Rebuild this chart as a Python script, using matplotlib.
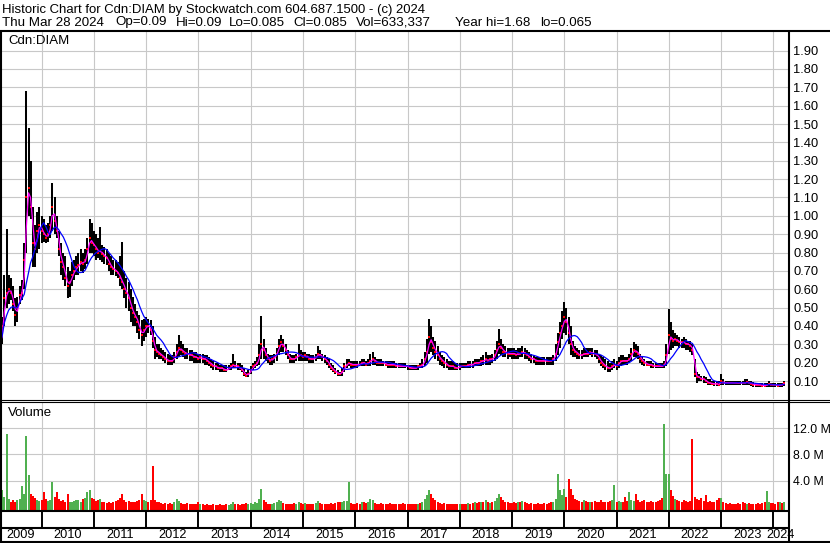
import numpy as np
import pandas as pd
import matplotlib
matplotlib.use("Agg")
import matplotlib.pyplot as plt
from matplotlib.lines import Line2D

plt.rcParams['font.family'] = ['Liberation Sans', 'DejaVu Sans']

# ---------------- text ----------------
title_line1 = "Historic Chart for Cdn:DIAM by Stockwatch.com 604.687.1500 - (c) 2024"
title_line2_parts = ["Thu Mar 28 2024", "Op=0.09", "Hi=0.09", "Lo=0.085", "Cl=0.085",
                     "Vol=633,337", "Year hi=1.68", "lo=0.065"]
symbol = "Cdn:DIAM"
volume_title = "Volume"

# ---------------- data (semi-monthly, from 2009-03-15) ----------------
start_date = "2009-03-15"

high = [
    .36, .45, .68, .93, .68, .66, .62, .55, .56, .62, .65, .85, 1.68, 1.48, 1.30, 1.05, .95, 1.02, 1.05,          # 2009
    1.00, .98, .95, .96, 1.00, 1.18, 1.10, 1.00, .92, .85, .80, .78, .72, .70, .75, .76, .78, .80, .82, .80, .82, .88, .98, .96,  # 2010
    .92, .90, .88, .94, .84, .83, .82, .80, .78, .76, .76, .75, .78, .86, .70, .66, .64, .60, .56, .52, .48, .46, .43, .44,  # 2011
    .45, .44, .43, .40, .34, .30, .30, .28, .27, .26, .25, .24, .24, .26, .30, .35, .32, .30, .28, .28, .27, .27, .26, .26,  # 2012
    .25, .25, .25, .24, .24, .23, .22, .21, .20, .20, .19, .19, .19, .19, .19, .20, .25, .21, .20, .20, .19, .17, .15, .16,  # 2013
    .18, .20, .21, .23, .30, .455, .33, .28, .25, .24, .24, .25, .28, .33, .35, .33, .30, .27, .25, .24, .24, .25, .30, .27,  # 2014
    .26, .26, .25, .25, .24, .24, .25, .29, .27, .25, .24, .23, .22, .20, .19, .17, .16, .15, .17, .20, .22, .22, .21, .21,  # 2015
    .21, .21, .21, .22, .22, .21, .22, .25, .257, .23, .22, .22, .22, .21, .21, .21, .21, .21, .21, .20, .20, .20, .20, .20,  # 2016
    .19, .19, .19, .19, .19, .19, .20, .22, .26, .33, .44, .40, .34, .32, .29, .26, .24, .23, .22, .21, .21, .21, .20, .20,  # 2017
    .20, .20, .20, .20, .21, .21, .21, .22, .22, .22, .23, .24, .26, .24, .24, .25, .27, .32, .385, .33, .30, .29, .28, .28,  # 2018
    .28, .28, .27, .28, .28, .29, .28, .27, .26, .25, .24, .23, .23, .23, .23, .23, .23, .23, .23, .24, .30, .36, .42, .48,  # 2019
    .53, .50, .45, .40, .32, .29, .28, .27, .27, .28, .28, .28, .28, .28, .27, .27, .25, .24, .23, .22, .21, .20, .21, .22,  # 2020
    .21, .23, .24, .24, .23, .23, .25, .28, .31, .30, .29, .25, .23, .22, .21, .21, .21, .20, .20, .20, .20, .20, .21, .30,  # 2021
    .49, .42, .38, .36, .35, .34, .33, .34, .33, .32, .32, .30, .22, .15, .14, .13, .13, .12, .11, .11, .10, .10, .10, .10,  # 2022
    .14, .11, .10, .10, .10, .10, .10, .10, .10, .10, .10, .11, .11, .10, .10, .095, .09, .09, .09, .09, .09, .09, .10, .09,  # 2023
    .09, .09, .09, .09, .09, .10,                                                                                       # 2024
]
low = [
    .26, .30, .40, .50, .52, .54, .48, .40, .42, .52, .54, .60, .80, 1.00, .98, .72, .72, .80, .82,
    .85, .86, .85, .86, .88, .92, .90, .88, .78, .68, .65, .62, .55, .56, .62, .65, .68, .68, .70, .69, .71, .74, .80, .80,
    .78, .76, .77, .76, .75, .74, .73, .70, .68, .68, .67, .66, .62, .60, .55, .50, .48, .42, .40, .40, .36, .33, .29, .32,
    .34, .36, .35, .28, .22, .23, .22, .22, .21, .20, .19, .19, .19, .20, .22, .23, .24, .23, .22, .22, .21, .21, .20, .20,
    .20, .20, .20, .19, .19, .18, .17, .16, .16, .16, .15, .15, .15, .15, .16, .16, .17, .17, .16, .16, .15, .13, .12, .12,
    .14, .16, .17, .18, .19, .22, .22, .21, .20, .19, .19, .20, .21, .24, .26, .26, .24, .22, .20, .20, .20, .21, .21, .21,
    .21, .21, .21, .20, .20, .20, .21, .22, .22, .21, .20, .19, .17, .16, .15, .14, .13, .125, .13, .15, .17, .18, .17, .17,
    .17, .17, .18, .18, .18, .18, .18, .18, .19, .19, .18, .18, .18, .18, .18, .17, .17, .17, .17, .17, .17, .17, .17, .17,
    .16, .16, .16, .16, .16, .16, .17, .17, .18, .20, .25, .26, .24, .22, .21, .19, .18, .17, .17, .16, .16, .16, .16, .16,
    .16, .17, .17, .17, .17, .17, .17, .18, .18, .18, .18, .19, .19, .19, .19, .20, .21, .22, .25, .24, .23, .23, .22, .23,
    .22, .22, .22, .22, .23, .23, .22, .22, .21, .20, .20, .19, .19, .19, .19, .19, .19, .19, .19, .19, .21, .24, .28, .33,
    .36, .35, .30, .24, .23, .23, .22, .22, .22, .23, .23, .23, .24, .23, .23, .22, .20, .18, .17, .16, .15, .15, .16, .17,
    .16, .17, .18, .19, .19, .19, .20, .21, .23, .23, .22, .20, .19, .18, .18, .18, .17, .17, .17, .17, .17, .17, .17, .18,
    .25, .27, .28, .29, .29, .28, .28, .28, .27, .27, .26, .24, .12, .09, .10, .10, .09, .09, .08, .08, .08, .075, .075, .075,
    .08, .08, .08, .08, .08, .08, .08, .08, .08, .08, .08, .08, .08, .08, .075, .07, .07, .07, .07, .065, .065, .07, .07, .07,
    .07, .07, .065, .07, .07, .075,
]
close = [
    .30, .40, .55, .58, .60, .58, .52, .46, .50, .57, .58, .76, 1.10, 1.15, 1.05, .85, .82, .92, .95,
    .92, .90, .88, .90, .95, 1.05, .97, .92, .82, .75, .72, .66, .62, .64, .68, .70, .72, .73, .75, .74, .76, .82, .88, .85,
    .84, .82, .80, .81, .79, .78, .77, .74, .72, .71, .70, .69, .66, .64, .60, .58, .55, .50, .47, .45, .42, .38, .35, .38,
    .40, .40, .38, .32, .27, .26, .25, .24, .23, .22, .21, .21, .21, .23, .26, .28, .27, .26, .25, .25, .24, .24, .23, .23,
    .22, .23, .22, .22, .21, .20, .19, .18, .18, .17, .17, .17, .16, .16, .17, .18, .19, .18, .18, .17, .16, .14, .13, .14,
    .16, .18, .19, .20, .24, .30, .27, .24, .22, .21, .22, .23, .25, .29, .31, .29, .27, .24, .22, .22, .22, .23, .24, .24,
    .23, .24, .23, .22, .22, .22, .23, .25, .24, .23, .22, .21, .19, .17, .16, .15, .14, .14, .15, .18, .19, .20, .19, .19,
    .19, .19, .19, .20, .20, .19, .20, .21, .22, .21, .20, .20, .20, .20, .19, .19, .19, .19, .19, .18, .18, .18, .18, .18,
    .18, .17, .17, .17, .17, .18, .18, .19, .22, .26, .34, .31, .28, .26, .24, .22, .21, .20, .19, .18, .18, .18, .17, .17,
    .18, .18, .18, .18, .19, .19, .19, .20, .20, .20, .21, .21, .22, .21, .22, .22, .24, .27, .30, .28, .26, .26, .25, .25,
    .25, .25, .24, .25, .25, .26, .25, .24, .23, .22, .22, .21, .21, .21, .21, .21, .21, .21, .21, .22, .25, .31, .36, .40,
    .45, .42, .36, .30, .27, .26, .25, .24, .24, .25, .25, .25, .26, .25, .25, .24, .22, .20, .19, .18, .17, .17, .18, .19,
    .18, .20, .21, .21, .21, .21, .22, .25, .27, .26, .25, .22, .21, .20, .19, .19, .19, .18, .18, .18, .18, .18, .19, .24,
    .35, .33, .32, .33, .32, .31, .31, .31, .30, .30, .29, .27, .14, .12, .12, .11, .11, .10, .09, .09, .085, .085, .085, .08,
    .10, .09, .09, .09, .09, .09, .09, .09, .09, .09, .09, .09, .095, .09, .085, .08, .08, .08, .08, .075, .075, .08, .085, .08,
    .08, .08, .075, .08, .08, .09,
]
volume_m = [
    5.6, 2.6, 1.5, 11.1, 1.2, 0.8, 1.0, 0.7, 1.1, 1.2, 3.2, 2.0, 10.8, 4.8, 2.0, 1.6, 1.4, 1.0, 0.9,
    1.0, 2.3, 1.2, 0.9, 1.1, 3.8, 1.5, 2.2, 1.2, 0.9, 1.0, 0.8, 1.9, 0.8, 0.7, 0.9, 1.0, 1.1, 0.8, 1.2, 1.4, 2.3, 2.6, 1.3,
    1.2, 0.9, 1.0, 1.2, 0.8, 0.7, 0.6, 0.7, 0.6, 0.7, 0.9, 1.0, 1.4, 2.0, 1.0, 0.8, 0.9, 0.7, 0.8, 0.7, 0.9, 1.1, 1.9, 1.0,
    0.9, 0.8, 1.0, 6.3, 1.1, 0.8, 0.7, 0.6, 0.5, 0.6, 0.5, 0.6, 0.5, 0.7, 1.2, 0.9, 0.6, 0.5, 0.5, 0.6, 0.5, 0.4, 0.5, 0.4,
    0.8, 0.5, 0.4, 0.3, 0.4, 0.3, 0.3, 0.4, 0.3, 0.3, 0.4, 0.3, 0.3, 0.4, 0.3, 0.4, 0.8, 0.5, 0.4, 0.3, 0.4, 0.5, 0.6, 0.4,
    0.6, 0.5, 0.7, 0.6, 1.2, 2.7, 1.0, 0.7, 0.5, 0.5, 0.5, 0.6, 0.8, 1.0, 0.9, 0.6, 0.5, 0.5, 0.4, 0.5, 0.6, 0.5, 0.8, 0.6,
    0.5, 0.6, 0.5, 0.4, 0.5, 0.4, 0.6, 0.9, 0.6, 0.5, 0.4, 0.4, 0.5, 0.6, 0.5, 0.6, 0.7, 0.8, 0.7, 0.9, 0.9, 3.8, 0.6, 0.5,
    0.5, 0.6, 0.5, 0.7, 0.8, 0.6, 0.7, 1.2, 1.0, 0.6, 0.5, 0.5, 0.6, 0.5, 0.4, 0.5, 0.6, 0.5, 0.4, 0.5, 0.4, 0.5, 0.6, 0.5,
    0.5, 0.4, 0.5, 0.5, 0.4, 0.5, 0.6, 0.8, 1.2, 1.8, 2.6, 2.0, 1.4, 1.0, 0.8, 0.6, 0.5, 0.6, 0.5, 0.4, 0.5, 0.5, 0.4, 0.5,
    0.5, 0.4, 0.5, 0.5, 0.6, 0.5, 0.6, 0.7, 0.6, 0.7, 0.8, 0.7, 1.0, 0.7, 0.6, 0.7, 0.9, 1.4, 2.0, 1.5, 1.0, 0.8, 0.7, 0.6,
    0.6, 0.7, 0.6, 0.8, 0.7, 0.9, 0.7, 0.6, 0.5, 0.6, 0.5, 0.5, 0.6, 0.5, 0.5, 0.6, 0.5, 0.6, 0.7, 0.8, 1.2, 5.0, 2.6, 1.8,
    2.7, 1.5, 4.3, 2.7, 1.8, 1.2, 1.0, 0.9, 0.8, 1.0, 0.9, 0.8, 0.7, 0.8, 0.9, 0.7, 0.8, 1.0, 0.8, 0.7, 0.8, 0.9, 1.0, 3.4,
    0.8, 0.9, 0.7, 0.8, 1.5, 0.9, 2.2, 1.0, 0.9, 1.9, 1.0, 0.8, 0.9, 1.0, 0.8, 0.7, 0.9, 0.8, 0.7, 0.9, 1.1, 1.4, 12.7, 5.0,
    5.0, 2.6, 1.7, 1.2, 1.0, 0.9, 0.8, 1.0, 0.9, 0.8, 0.9, 10.4, 1.5, 1.2, 1.0, 1.3, 0.9, 1.8, 0.8, 0.9, 0.7, 0.8, 1.0, 1.3,
    1.3, 0.8, 0.6, 0.5, 0.6, 0.5, 0.4, 0.5, 0.6, 0.5, 0.7, 0.6, 0.5, 0.6, 0.5, 0.4, 0.5, 0.6, 0.5, 0.6, 0.7, 2.4, 0.8, 0.6,
    0.6, 0.5, 0.7, 0.8, 0.6, 0.7,
]

price_ticks = [0.10, 0.20, 0.30, 0.40, 0.50, 0.60, 0.70, 0.80, 0.90, 1.00,
               1.10, 1.20, 1.30, 1.40, 1.50, 1.60, 1.70, 1.80, 1.90]
volume_ticks = [4.0, 8.0, 12.0]
volume_tick_labels = ["4.0 M", "8.0 M", "12.0 M"]
years = list(range(2009, 2025))
short_ma_window = 2
long_ma_window = 9

# ---------------- derived ----------------
dates = pd.date_range(start_date, periods=len(close), freq="SMS")
t = np.asarray(dates.year + (dates.dayofyear - 1) / np.where(dates.is_leap_year, 366, 365), dtype=float)
cs = pd.Series(close)
ma_short = cs.rolling(short_ma_window, min_periods=1).mean().values
ma_long = cs.rolling(long_ma_window, min_periods=1).mean().values
diff = np.diff(np.asarray(close), prepend=np.nan)
GREEN, RED, GRAY = "#50b050", "#ff0000", "#a0a0a0"
vcolors = [GREEN if d > 0 else (RED if d <= 0 else GRAY) for d in diff]

# ---------------- layout (pixels) ----------------
W, H = 830, 543
fig = plt.figure(figsize=(W / 100, H / 100), dpi=100)
fig.patch.set_facecolor("white")

PX_PER_YEAR = 52.26
X_2010 = 41.7
RIGHT = 788.0
x_left = 2010 - X_2010 / PX_PER_YEAR
x_right = 2010 + (RIGHT - X_2010) / PX_PER_YEAR


def px_axes(x0, y0, x1, y1, z=1):
    return fig.add_axes([x0 / W, 1 - y1 / H, (x1 - x0) / W, (y1 - y0) / H], zorder=z)


GRID = "#c8c8c8"
FS = 9.3
year_bounds = list(range(2010, 2025))

# price panel
axp = px_axes(0, 31.5, RIGHT, 399.4)
axp.set_xlim(x_left, x_right)
axp.set_ylim(0, 2.004)
for s in axp.spines.values():
    s.set_visible(False)
axp.set_xticks(year_bounds)
axp.set_xticklabels([])
axp.set_yticks(price_ticks)
axp.set_yticklabels([f"{v:.2f}" for v in price_ticks])
axp.yaxis.tick_right()
axp.tick_params(axis="both", length=0)
axp.tick_params(axis="y", pad=3.6, labelsize=FS)
axp.grid(True, color=GRID, lw=0.8)
axp.set_axisbelow(True)
axp.vlines(t, low, high, color="black", lw=1.45, zorder=2)
axp.scatter(t, close, marker="s", s=3.0, color=RED, linewidths=0, zorder=3)
axp.plot(t, ma_short, color="#ff00ff", lw=0.9, zorder=4)
axp.plot(t, ma_long, color="#0000ff", lw=0.9, zorder=5)

# volume panel
axv = px_axes(0, 402.5, RIGHT, 509.5)
axv.set_xlim(x_left, x_right)
axv.set_ylim(-0.4, 15.94)
for s in axv.spines.values():
    s.set_visible(False)
axv.set_xticks(year_bounds)
axv.set_xticklabels([])
axv.set_yticks(volume_ticks)
axv.set_yticklabels(volume_tick_labels)
axv.yaxis.tick_right()
axv.tick_params(axis="both", length=0)
axv.tick_params(axis="y", pad=3.4, labelsize=8.9)
axv.grid(True, color=GRID, lw=0.8)
axv.set_axisbelow(True)
vol = np.asarray(volume_m)
axv.bar(t, vol + 0.4, bottom=-0.4, width=2.0 / PX_PER_YEAR, color=vcolors, linewidth=0, zorder=2)

# date strip
axd = px_axes(0, 509.5, RIGHT, 543)
axd.set_xlim(x_left, x_right)
axd.set_ylim(0, 1)
axd.axis("off")
axd.vlines(year_bounds, 0.478, 1.0, color="black", lw=1.4)
for y in years:
    a, b = max(y, x_left), min(y + 1, x_right)
    axd.text((a + b) / 2, 0.25, str(y), ha="center", va="center", fontsize=9.2, clip_on=False)

# frame lines (pixel overlay)
ov = fig.add_axes([0, 0, 1, 1], zorder=10)
ov.set_xlim(0, W)
ov.set_ylim(H, 0)
ov.axis("off")
ov.patch.set_alpha(0)
LW2 = 1.5
segs = [
    ((0, W), (31, 31), LW2),
    ((1, 1), (31, H), LW2),
    ((789, 789), (31, H), LW2),
    ((0, W), (400, 400), 0.8),
    ((0, W), (402, 402), 0.8),
    ((0, 789), (510.5, 510.5), LW2),
    ((0, 789), (527.5, 527.5), LW2),
    ((0, W), (542, 542), LW2),
]
for xs, ys, lw in segs:
    ov.add_line(Line2D(xs, ys, color="black", lw=lw, solid_capstyle="butt"))

# texts
fig.text(2 / W, 1 - 12.5 / H, title_line1, ha="left", va="baseline", fontsize=9.45)
line2_x = [2, 115, 176, 229, 293, 356, 455, 540]
for xpx, part in zip(line2_x, title_line2_parts):
    fig.text(xpx / W, 1 - 25.5 / H, part, ha="left", va="baseline", fontsize=9.6)
fig.text(8 / W, 1 - 41 / H, symbol, ha="left", va="center", fontsize=9.5)
fig.text(8 / W, 1 - 413 / H, volume_title, ha="left", va="center", fontsize=9.5)

fig.savefig("out.png", dpi=100, facecolor="white")
